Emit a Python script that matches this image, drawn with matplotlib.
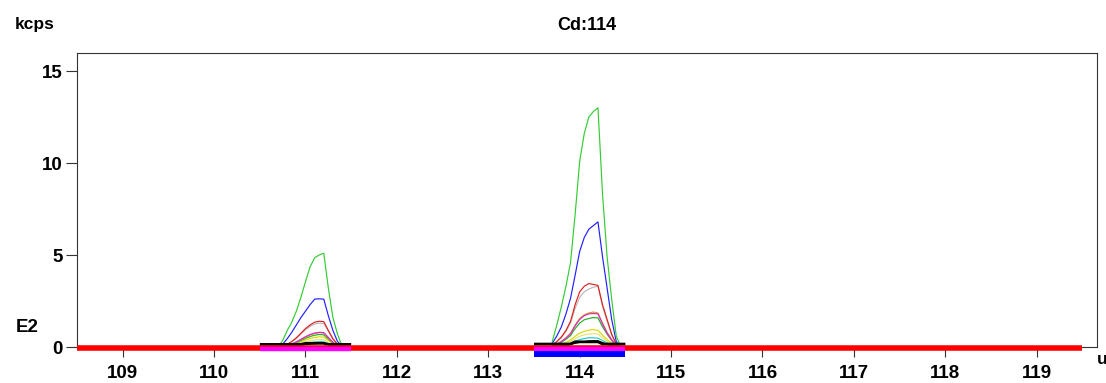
import matplotlib
matplotlib.use("Agg")
from matplotlib import pyplot as plt

# mass axis (u) for the two scanned windows
mass_111 = [110.70, 110.75, 110.80, 110.85, 110.90, 110.95, 111.00, 111.05,
            111.10, 111.15, 111.20, 111.25, 111.30, 111.35, 111.40, 111.45]
mass_114 = [113.70, 113.75, 113.80, 113.85, 113.90, 113.95, 114.00, 114.05,
            114.10, 114.15, 114.20, 114.25, 114.30, 114.35, 114.40, 114.45]

# intensities in kcps, one list per standard, per window
green_111 = [0.0, 0.35, 0.9, 1.35, 1.95, 2.7, 3.55, 4.35, 4.85, 5.0, 5.1, 3.2, 1.6, 0.7, 0.05, 0.0]
green_114 = [0.3, 1.2, 2.2, 3.3, 4.6, 7.2, 10.1, 11.6, 12.5, 12.8, 13.0, 8.3, 4.9, 2.6, 0.6, 0.0]
blue_111 = [0.0, 0.15, 0.45, 0.8, 1.2, 1.6, 1.95, 2.3, 2.6, 2.62, 2.6, 1.7, 0.9, 0.3, 0.05, 0.0]
blue_114 = [0.2, 0.6, 1.1, 1.8, 2.65, 3.9, 5.2, 5.95, 6.4, 6.6, 6.8, 4.9, 3.2, 1.5, 0.3, 0.0]
red_111 = [0.0, 0.05, 0.15, 0.3, 0.5, 0.75, 1.0, 1.2, 1.35, 1.4, 1.38, 0.9, 0.45, 0.15, 0.02, 0.0]
red_114 = [0.1, 0.3, 0.55, 0.9, 1.4, 2.3, 3.0, 3.3, 3.45, 3.4, 3.35, 2.3, 1.5, 0.7, 0.15, 0.0]
grey_111 = [0.0, 0.05, 0.14, 0.28, 0.46, 0.7, 0.93, 1.12, 1.25, 1.3, 1.28, 0.85, 0.42, 0.14, 0.02, 0.0]
grey_114 = [0.1, 0.28, 0.5, 0.85, 1.3, 2.1, 2.7, 3.0, 3.15, 3.25, 3.3, 2.2, 1.4, 0.65, 0.15, 0.0]
gold_111 = [0.0, 0.03, 0.08, 0.16, 0.27, 0.4, 0.53, 0.65, 0.73, 0.78, 0.76, 0.5, 0.25, 0.08, 0.01, 0.0]
gold_114 = [0.05, 0.15, 0.3, 0.5, 0.75, 1.2, 1.55, 1.75, 1.85, 1.9, 1.85, 1.3, 0.8, 0.4, 0.1, 0.0]
magenta_111 = [0.0, 0.03, 0.08, 0.17, 0.28, 0.42, 0.56, 0.68, 0.76, 0.8, 0.78, 0.52, 0.26, 0.08, 0.01, 0.0]
magenta_114 = [0.05, 0.15, 0.3, 0.48, 0.72, 1.15, 1.5, 1.7, 1.8, 1.82, 1.8, 1.25, 0.75, 0.38, 0.1, 0.0]
green2_111 = [0.0, 0.02, 0.07, 0.14, 0.23, 0.35, 0.47, 0.57, 0.64, 0.68, 0.66, 0.44, 0.22, 0.07, 0.01, 0.0]
green2_114 = [0.05, 0.12, 0.25, 0.42, 0.62, 1.0, 1.3, 1.48, 1.55, 1.6, 1.58, 1.1, 0.7, 0.35, 0.08, 0.0]
yellow_111 = [0.0, 0.02, 0.05, 0.11, 0.19, 0.28, 0.38, 0.46, 0.52, 0.55, 0.54, 0.36, 0.18, 0.06, 0.01, 0.0]
yellow_114 = [0.03, 0.08, 0.15, 0.25, 0.38, 0.58, 0.75, 0.85, 0.92, 0.95, 0.9, 0.65, 0.4, 0.2, 0.05, 0.0]
khaki_111 = [0.0, 0.01, 0.04, 0.08, 0.14, 0.21, 0.28, 0.34, 0.38, 0.4, 0.39, 0.26, 0.13, 0.04, 0.0, 0.0]
khaki_114 = [0.02, 0.06, 0.12, 0.2, 0.3, 0.45, 0.58, 0.66, 0.7, 0.72, 0.7, 0.5, 0.3, 0.15, 0.04, 0.0]
cyan_111 = [0.0, 0.01, 0.03, 0.06, 0.1, 0.15, 0.2, 0.24, 0.27, 0.29, 0.28, 0.19, 0.1, 0.03, 0.0, 0.0]
cyan_114 = [0.02, 0.05, 0.1, 0.15, 0.22, 0.32, 0.4, 0.46, 0.5, 0.5, 0.48, 0.35, 0.22, 0.1, 0.03, 0.0]
black_111 = [0.0, 0.01, 0.02, 0.04, 0.07, 0.1, 0.13, 0.16, 0.18, 0.2, 0.19, 0.13, 0.07, 0.02, 0.0, 0.0]
black_114 = [0.01, 0.03, 0.06, 0.1, 0.14, 0.2, 0.25, 0.3, 0.33, 0.35, 0.34, 0.24, 0.15, 0.06, 0.01, 0.0]

# integration windows and blank trace
window_111 = (110.5, 111.5)
window_114 = (113.5, 114.5)
blank_111_x = [110.5, 110.95, 111.0, 111.2, 111.25, 111.5]
blank_111_y = [0.14, 0.14, 0.2, 0.2, 0.14, 0.14]
blank_114_x = [113.5, 113.9, 113.95, 114.2, 114.25, 114.5]
blank_114_y = [0.16, 0.16, 0.28, 0.28, 0.16, 0.16]

scan_range = (108.5, 119.5)
x_ticks = [109, 110, 111, 112, 113, 114, 115, 116, 117, 118, 119]
y_ticks = [0, 5, 10, 15]

traces = [
    ("#b8b8b8", grey_111, grey_114),
    ("#e8e070", khaki_111, khaki_114),
    ("#20c8c8", cyan_111, cyan_114),
    ("#d8d800", yellow_111, yellow_114),
    ("#20b020", green2_111, green2_114),
    ("#c8a800", gold_111, gold_114),
    ("#e020e0", magenta_111, magenta_114),
    ("#000000", black_111, black_114),
    ("#e02020", red_111, red_114),
    ("#2020ff", blue_111, blue_114),
    ("#33cc33", green_111, green_114),
]

plt.rcParams["font.family"] = ["Liberation Sans", "DejaVu Sans"]
plt.rcParams["font.weight"] = "bold"

fig = plt.figure(figsize=(11.06, 3.83), dpi=100)
ax = fig.add_axes([77 / 1106, 1 - 347 / 383, 1020 / 1106, 294 / 383])

for colour, y111, y114 in traces:
    ax.plot(mass_111, y111, color=colour, lw=0.85, zorder=2)
    ax.plot(mass_114, y114, color=colour, lw=0.85, zorder=2)

ax.plot(blank_111_x, blank_111_y, color="black", lw=2.0, zorder=4, solid_capstyle="butt")
ax.plot(blank_114_x, blank_114_y, color="black", lw=2.0, zorder=4, solid_capstyle="butt")

# scan baseline and window markers under the axis
ax.plot(scan_range, [-0.055, -0.055], color="#ff0000", lw=4.0, zorder=5,
        clip_on=False, solid_capstyle="butt")
for lo, hi in (window_111, window_114):
    ax.plot([lo, hi], [-0.1, -0.1], color="#ff00ff", lw=3.2, zorder=6,
            clip_on=False, solid_capstyle="butt")
ax.plot(window_114, [-0.38, -0.38], color="#0000ff", lw=4.3, zorder=6,
        clip_on=False, solid_capstyle="butt")

ax.set_xlim(108.5, 119.66)
ax.set_ylim(0, 15.98)
ax.set_xticks(x_ticks)
ax.set_yticks(y_ticks)
ax.tick_params(axis="x", length=7.2, width=0.8, pad=5.5, labelsize=13.5, color="#333333")
ax.tick_params(axis="y", length=8, width=0.8, pad=2, labelsize=13.5, color="#333333")
for sp in ax.spines.values():
    sp.set_linewidth(0.8)
    sp.set_color("#333333")

fig.text(35 / 1106, 1 - 25 / 383, "kcps", ha="center", va="center", fontsize=12.5)
fig.text(27 / 1106, 1 - 327 / 383, "E2", ha="center", va="center", fontsize=13.5)
fig.text(1102 / 1106, 1 - 359 / 383, "u", ha="center", va="center", fontsize=12.5)
fig.text(587 / 1106, 1 - 25 / 383, "Cd:114", ha="center", va="center", fontsize=13)

fig.savefig("out.png", dpi=100)
